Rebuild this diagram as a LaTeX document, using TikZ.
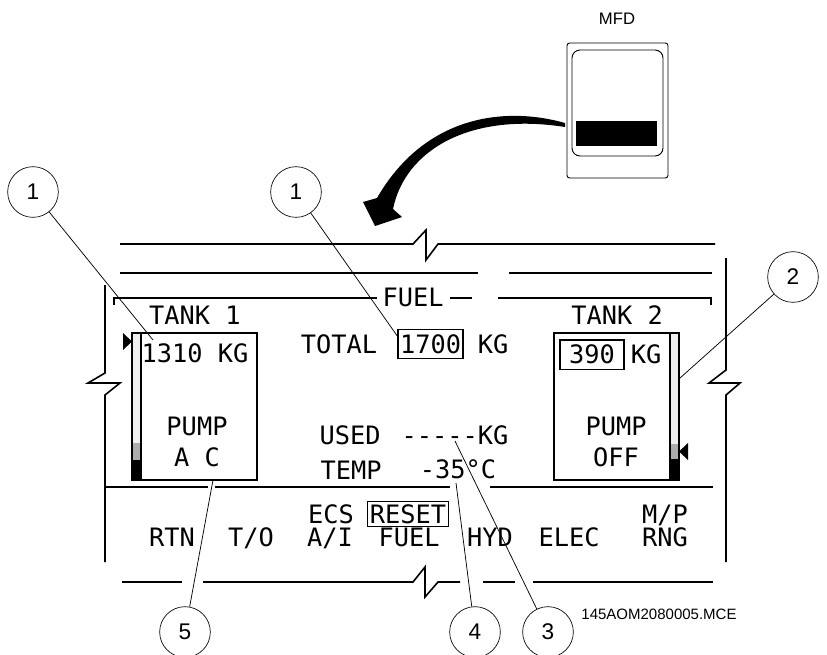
\documentclass[tikz,border=0pt]{standalone}
\usepackage{fontspec}
\setmainfont{Liberation Sans}
\newfontfamily\lcdfont{DejaVu Sans Mono}
\usetikzlibrary{positioning,calc}

\begin{document}
\begin{tikzpicture}[
    x=0.75pt, y=-0.75pt,
    lcd/.style={font=\lcdfont\fontsize{19}{21}\selectfont, inner sep=0pt,
                text height=13.9pt, text depth=0pt},
    valbox/.style={draw, line width=0.9pt, inner xsep=1.5pt, inner ysep=4pt},
    keybox/.style={draw, line width=0.9pt, inner xsep=1.5pt, inner ysep=2.5pt},
    callout/.style={circle, draw, line width=0.5pt, minimum size=38pt,
                    inner sep=0pt, font=\fontsize{17}{19}\selectfont},
    panel/.style={line width=1.2pt},
    leader/.style={line width=0.55pt}
]
\useasboundingbox (0,0) rectangle (827,654);

% MFD icon + transfer arrow
\node[font=\fontsize{12.5}{14}\selectfont] (mfdlbl) at (617,19) {MFD};
\draw[line width=0.7pt, rounded corners=2pt] (567,43) rectangle (668,178);
\draw[line width=0.7pt, rounded corners=6pt] (572,50) rectangle (663,156);
\fill (576,121) rectangle (657,146);
\fill (565,123) .. controls (505,106) and (425,115) .. (377,198)
      -- (363,202) -- (375,226) -- (402,217) -- (393,209)
      .. controls (405,150) and (470,112) .. (565,127) -- cycle;

% Frame lines with breaks
\draw[panel] (120,244) -- (413,244) -- (426,230) -- (426,260) -- (438,244) -- (715,244);
\draw[panel] (120,273) -- (478,273);
\draw[panel] (509,273) -- (712,273);
\draw[panel] (114,305) -- (114,298) -- (377,298);
\draw[panel] (450,298) -- (472,298);
\draw[panel] (498,298) -- (711,298) -- (711,305);
\draw[panel] (105,285) -- (105,373) -- (88,383) -- (120,383) -- (105,395) -- (105,562);
\draw[panel] (726,258) -- (726,370) -- (709,383) -- (740,383) -- (726,395) -- (726,562);
\draw[panel] (105,487) -- (208,487);
\draw[panel] (215,487) -- (450,487);
\draw[panel] (490,487) -- (713,487);
\draw[panel] (122,582) -- (182,582);
\draw[panel] (203,582) -- (413,582) -- (425,567) -- (425,597) -- (438,582) -- (460,582);
\draw[panel] (483,582) -- (515,582);
\draw[panel] (533,582) -- (713,582);

% Tank 1 gauge
\draw[panel] (141,333) rectangle (257,480);
\fill[gray!12] (132,333) rectangle (141,443);
\fill[gray!65] (132,443) rectangle (141,460);
\fill (132,460) rectangle (141,480);
\draw[panel] (132,333) rectangle (141,480);
\fill (123,333) -- (132,341.5) -- (123,350) -- cycle;

% Tank 2 gauge
\draw[panel] (554,333) rectangle (670,480);
\fill[gray!12] (670,333) rectangle (679,444);
\fill[gray!65] (670,444) rectangle (679,459);
\fill (670,459) rectangle (679,480);
\draw[panel] (670,333) rectangle (679,480);
\fill (688,443) -- (679,451.5) -- (688,460) -- cycle;

% Page texts
\node[lcd] (fuelhdr) at (413,297) {FUEL};
\node[lcd] (tank1) at (195,315) {TANK 1};
\node[lcd] (qty1) at (195,353) {1310 KG};
\node[lcd] (pump1) at (197,426) {PUMP};
\node[lcd] (pump1st) at (197,457) {A C};
\node[lcd, valbox] (total) at (430.5,344) {1700};
\node[lcd, left=15pt of total] (totlbl) {TOTAL};
\node[lcd, right=10.5pt of total] (totunit) {KG};
\node[lcd] (tank2) at (617,315) {TANK 2};
\node[lcd, valbox, minimum width=48pt] (qty2) at (592,354.5) {390};
\node[lcd, right=4.5pt of qty2] (qty2unit) {KG};
\node[lcd] (pump2) at (616,426) {PUMP};
\node[lcd] (pump2st) at (616,457) {OFF};
\node[lcd] (usedlbl) at (350,435) {USED};
\node[lcd] (used) at (455,435) {-----KG};
\node[lcd] (templbl) at (351,470) {TEMP};
\node[lcd] (temp) at (458,469) {-35°C};

% Soft keys
\node[lcd] (krtn) at (172,537) {RTN};
\node[lcd] (kto) at (251,537) {T/O};
\node[lcd] (kai) at (330,537) {A/I};
\node[lcd] (kfuel) at (409,537) {FUEL};
\node[lcd] (khyd) at (490,537) {HYD};
\node[lcd] (kelec) at (569,537) {ELEC};
\node[lcd] (kecs) at (331,514) {ECS};
\node[lcd, keybox] (kreset) at (408,514) {RESET};
\node[lcd] (kmp) at (665,514) {M/P};
\node[lcd] (krng) at (665,537) {RNG};

% Callouts
\node[callout] (c1a) at (33,192) {1};
\node[callout] (c1b) at (296,192) {1};
\node[callout] (c2) at (793,277) {2};
\node[callout] (c5) at (185,632) {5};
\node[callout] (c4) at (475,632) {4};
\node[callout] (c3) at (548,632) {3};
\coordinate (p1a) at (153,340);
\coordinate (p1b) at (398,337);
\coordinate (p2) at (680,378);
\coordinate (p5) at (213,480);
\coordinate (p4) at (456,483);
\coordinate (p3) at (455,441);
\draw[leader] (c1a) -- (p1a);
\draw[leader] (c1b) -- (p1b);
\draw[leader] (c2) -- (p2);
\draw[leader] (c5) -- (p5);
\draw[leader] (c4) -- (p4);
\draw[leader] (c3) -- (p3);

\node[font=\fontsize{11.25}{13}\selectfont] (dwgno) at (659,614) {145AOM2080005.MCE};

\end{tikzpicture}
\end{document}
